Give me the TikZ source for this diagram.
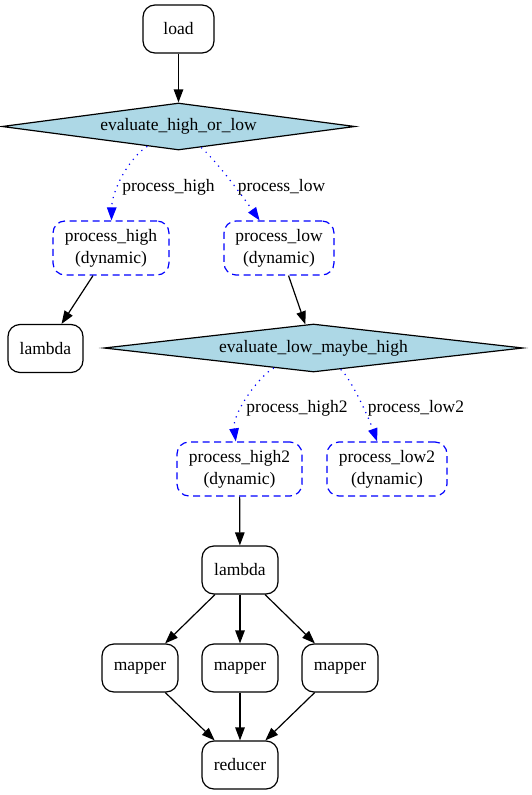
\documentclass[tikz,border=0pt]{standalone}
\usepackage{fontspec}
\setmainfont{Liberation Serif}
\usetikzlibrary{arrows.meta,shapes.geometric}
\definecolor{lightblue}{HTML}{ADD8E6}

\begin{document}
\begin{tikzpicture}[x=1pt,y=-1pt,
  font=\fontsize{17.5}{22}\selectfont,
  every node/.style={inner sep=0pt},
  task/.style={draw, rounded corners=12pt, line width=1.2pt, minimum height=48pt, align=center},
  dyn/.style={task, draw=blue, dash pattern=on 7pt off 4.5pt, minimum height=54pt},
  choice/.style={draw, diamond, fill=lightblue, line width=1.2pt, aspect=7.5},
  flow/.style={-{Triangle[length=13pt,width=9.5pt]}, line width=1.2pt},
  branch/.style={flow, blue, dash pattern=on 1.2pt off 5pt},
  lbl/.style={}]
\useasboundingbox (0,0) rectangle (531,795);

% nodes
\node[task, minimum width=71pt] (load) at (178.5,29) {load};
\node[choice, minimum width=353pt, minimum height=47pt] (evhl) at (178.5,126.5) {evaluate\_high\_or\_low};
\node[dyn, minimum width=116pt] (ph) at (111,248) {process\_high\\(dynamic)};
\node[dyn, minimum width=110pt] (pl) at (279,248) {process\_low\\(dynamic)};
\node[task, minimum width=75pt] (lam1) at (45.5,348.5) {lambda};
\node[choice, minimum width=419pt, minimum height=48pt] (evlm) at (313.5,348) {evaluate\_low\_maybe\_high};
\node[dyn, minimum width=125pt] (ph2) at (239.5,469) {process\_high2\\(dynamic)};
\node[dyn, minimum width=120pt] (pl2) at (387,469) {process\_low2\\(dynamic)};
\node[task, minimum width=76pt] (lam2) at (240,570) {lambda};
\node[task, minimum width=76pt] (m1) at (140,668) {mapper};
\node[task, minimum width=76pt] (m2) at (240,668) {mapper};
\node[task, minimum width=76pt] (m3) at (340,668) {mapper};
\node[task, minimum width=76pt] (red) at (240,765) {reducer};

% edge labels
\node[lbl] (lph) at (168.5,187) {process\_high};
\node[lbl] (lpl) at (281.5,187) {process\_low};
\node[lbl] (lph2) at (297,408) {process\_high2};
\node[lbl] (lpl2) at (416,408) {process\_low2};

% connectors
\draw[flow] (load) -- (evhl);
\draw[branch] (evhl) .. controls (129,158) and (112,190) .. (ph);
\draw[branch] (evhl) .. controls (217,162) and (241,194) .. (pl);
\draw[flow] (ph) -- (lam1);
\draw[flow] (pl) -- (evlm);
\draw[branch] (evlm) .. controls (260,375) and (232,413) .. (ph2);
\draw[branch] (evlm) .. controls (349,376) and (367,413) .. (pl2);
\draw[flow] (ph2) -- (lam2);
\draw[flow] (lam2) -- (m1);
\draw[flow] (lam2) -- (m2);
\draw[flow] (lam2) -- (m3);
\draw[flow] (m1) -- (red);
\draw[flow] (m2) -- (red);
\draw[flow] (m3) -- (red);
\end{tikzpicture}
\end{document}
